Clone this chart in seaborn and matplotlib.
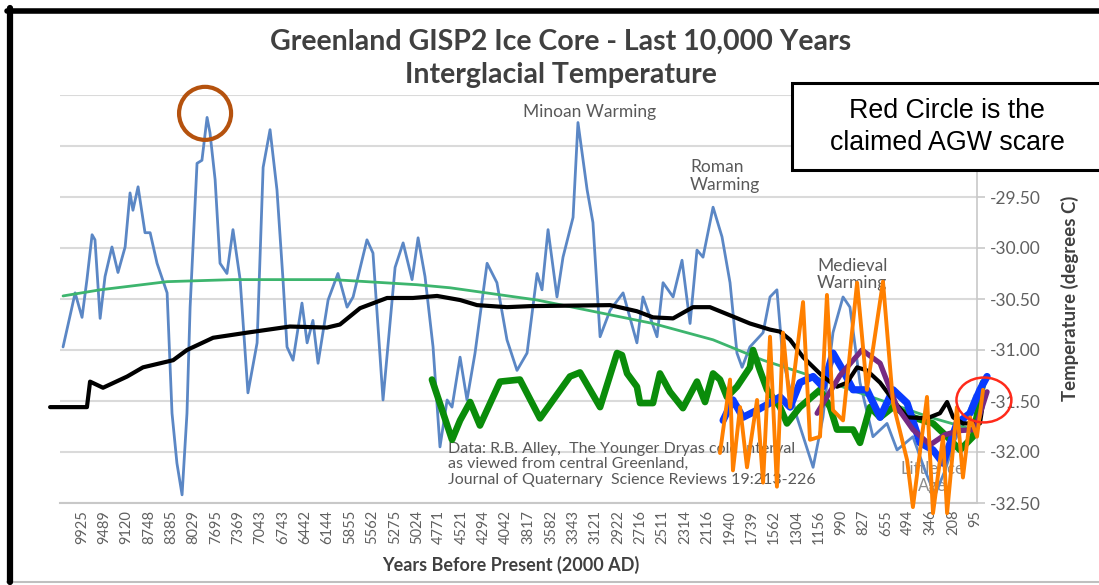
import matplotlib
matplotlib.use("Agg")
import matplotlib.pyplot as plt
from matplotlib.patches import Ellipse, Rectangle
from matplotlib.lines import Line2D
import pandas as pd
import seaborn as sns

# Category axis: years before present (2000 AD)
year_labels = ["9925", "9489", "9120", "8748", "8385", "8029", "7695", "7369", "7043",
               "6743", "6442", "6144", "5855", "5562", "5275", "5024", "4771", "4521",
               "4294", "4042", "3817", "3582", "3343", "3121", "2922", "2716", "2511",
               "2314", "2116", "1940", "1739", "1562", "1304", "1156", "990", "827",
               "655", "494", "346", "208", "95"]
temp_ticks = [-32.5, -32.0, -31.5, -31.0, -30.5, -30.0, -29.5, -29.0, -28.5]
# the two top labels sit behind the callout box
temp_tick_labels = ["-32.50", "-32.00", "-31.50", "-31.00", "-30.50", "-30.00", "-29.50", "", ""]

# GISP2 temperature record (position along the category axis, degrees C)
gisp2_pos = [-0.85, -0.45, -0.31, 0.00, 0.22, 0.45, 0.58, 0.81, 1.03, 1.34, 1.61, 1.93,
             2.15, 2.28, 2.51, 2.82, 3.05, 3.36, 3.81, 4.03, 4.25, 4.48, 4.70, 4.84,
             5.15, 5.37, 5.60, 5.73, 5.96, 6.18, 6.49, 6.76, 7.08, 7.43, 7.84, 8.11,
             8.42, 8.73, 9.00, 9.18, 9.45, 9.85, 10.08, 10.34, 10.57, 11.02, 11.46, 11.87,
             12.14, 12.76, 13.03, 13.48, 14.02, 14.38, 14.78, 15.05, 15.36, 15.72, 16.03, 16.35,
             16.57, 16.93, 17.24, 17.60, 18.14, 18.58, 19.03, 19.48, 19.93, 20.38, 20.60, 20.87,
             21.27, 21.54, 21.99, 22.21, 22.62, 22.88, 23.20, 23.65, 24.23, 24.85, 25.12, 25.75,
             26.02, 26.47, 26.87, 27.23, 27.54, 27.81, 28.26, 28.66, 29.02, 29.33, 29.56, 29.91,
             30.50, 30.81, 31.12, 31.39, 32.02, 32.74, 33.18, 33.63, 34.08, 34.39, 34.84, 35.42,
             36.05, 36.50, 37.21, 37.75, 38.20, 38.65, 39.10, 39.54, 39.99]
gisp2_temp = [-30.97, -30.58, -30.44, -30.68, -30.31, -29.87, -29.92, -30.69, -30.28, -29.99, -30.24, -29.99,
              -29.46, -29.63, -29.40, -29.85, -29.85, -30.15, -30.44, -31.62, -32.11, -32.42, -31.62, -30.58,
              -29.17, -29.14, -28.72, -28.87, -29.33, -30.15, -30.25, -29.82, -30.31, -31.42, -30.93, -29.21,
              -28.84, -29.43, -30.31, -30.97, -31.10, -30.54, -30.93, -30.71, -31.13, -30.51, -30.25, -30.58,
              -30.48, -29.92, -30.05, -31.49, -30.19, -29.95, -30.31, -29.90, -30.28, -30.97, -31.95, -31.49,
              -31.56, -31.07, -31.49, -31.03, -30.15, -30.34, -30.90, -31.20, -31.03, -30.25, -30.41, -29.82,
              -30.48, -30.09, -29.70, -28.77, -29.43, -29.75, -30.87, -30.61, -30.44, -30.93, -30.48, -30.87,
              -30.34, -30.48, -30.12, -30.74, -30.02, -30.09, -29.60, -29.89, -30.34, -31.03, -31.17, -30.97,
              -30.83, -30.48, -30.41, -31.10, -31.66, -32.15, -31.66, -30.83, -30.48, -30.58, -31.32, -31.85,
              -31.72, -31.98, -31.85, -32.18, -32.42, -32.18, -31.88, -31.69, -31.44]

# Polynomial trend of the record
trend_pos = [-0.85, 0.81, 3.81, 6.76, 11.24, 15.00, 16.48, 20.38, 25.57, 28.26, 30.50,
             32.74, 35.74, 37.98, 39.90]
trend_temp = [-30.47, -30.41, -30.33, -30.31, -30.31, -30.36, -30.39, -30.51, -30.74, -30.90, -31.10,
              -31.26, -31.49, -31.66, -31.78]

# Overlaid reconstructions
black_pos = [-1.43, 0.22, 0.36, 0.94, 2.02, 2.73, 4.08, 4.70, 5.87, 7.39, 9.31, 10.97,
             11.55, 12.45, 13.66, 14.82, 15.90, 16.93, 17.69, 19.03, 20.06, 23.65, 24.85, 25.57,
             26.47, 27.36, 28.12, 29.02, 29.91, 30.81, 31.26, 31.71, 32.29, 33.18, 33.81, 34.26,
             34.71, 35.15, 35.74, 36.32, 36.95, 37.84, 38.42, 38.74, 39.01, 39.45, 40.21, 40.35]
black_temp = [-31.56, -31.56, -31.31, -31.37, -31.26, -31.17, -31.10, -31.00, -30.88, -30.83, -30.77, -30.78,
              -30.75, -30.59, -30.49, -30.49, -30.47, -30.51, -30.56, -30.58, -30.57, -30.56, -30.62, -30.68,
              -30.69, -30.58, -30.58, -30.66, -30.74, -30.80, -30.82, -30.90, -31.07, -31.26, -31.36, -31.32,
              -31.17, -31.20, -31.32, -31.49, -31.66, -31.67, -31.62, -31.51, -31.66, -31.72, -31.72, -31.52]

green_pos = [15.67, 16.57, 16.93, 17.38, 17.82, 18.72, 19.61, 20.51, 21.85, 22.30, 23.20, 23.96,
             24.18, 24.41, 24.85, 24.99, 25.57, 25.88, 26.33, 26.91, 27.54, 27.90, 28.26, 28.57,
             28.88, 29.33, 29.91, 30.05, 30.36, 30.68, 31.26, 31.57, 32.15, 33.05, 33.50, 33.81,
             34.53, 34.84, 35.29, 35.74, 36.32, 37.21, 38.11, 38.74, 39.32, 39.90, 40.35]
green_temp = [-31.29, -31.88, -31.69, -31.51, -31.74, -31.31, -31.29, -31.67, -31.26, -31.22, -31.56, -31.03,
              -31.05, -31.23, -31.36, -31.52, -31.52, -31.23, -31.41, -31.57, -31.31, -31.51, -31.23, -31.29,
              -31.46, -31.36, -31.17, -31.00, -31.20, -31.39, -31.56, -31.72, -31.56, -31.39, -31.56, -31.78,
              -31.78, -31.91, -31.56, -31.66, -31.56, -31.66, -31.72, -31.85, -31.98, -31.85, -31.32]

blue_pos = [28.71, 29.15, 29.60, 30.23, 30.81, 31.26, 31.71, 32.15, 32.74, 33.18, 33.63, 34.08,
            34.53, 35.15, 35.74, 36.32, 36.95, 37.53, 38.11, 38.56, 39.18, 39.77, 40.21, 40.53]
blue_temp = [-31.69, -31.49, -31.66, -31.59, -31.52, -31.46, -31.56, -31.32, -31.26, -31.36, -31.03, -31.20,
             -31.39, -31.39, -31.66, -31.39, -31.52, -31.91, -31.98, -32.11, -31.72, -31.62, -31.39, -31.26]

purple_pos = [32.92, 33.94, 34.93, 35.74, 36.50, 37.21, 37.98, 38.65, 39.32, 39.99, 40.53]
purple_temp = [-31.62, -31.25, -31.00, -31.13, -31.56, -31.78, -31.93, -31.83, -31.79, -31.78, -31.41]

orange_pos = [28.57, 29.02, 29.15, 29.47, 29.78, 30.23, 30.50, 30.81, 31.12, 31.39, 31.71, 32.29,
              32.60, 33.05, 33.36, 33.63, 34.08, 34.71, 35.15, 35.87, 36.32, 36.95, 37.21, 37.84,
              38.11, 38.56, 38.74, 39.18, 39.45, 39.77, 40.08, 40.35]
orange_temp = [-32.01, -31.29, -32.18, -31.56, -32.15, -31.49, -32.30, -30.87, -32.34, -30.83, -31.56, -30.53,
               -31.88, -31.85, -30.46, -31.59, -31.69, -30.34, -31.39, -30.33, -31.52, -32.08, -32.54, -31.46,
               -32.60, -31.85, -32.60, -31.56, -32.25, -31.66, -31.85, -31.39]

sns.set_theme(style="white")
plt.rcParams["font.family"] = ["Lato", "DejaVu Sans"]

W, H = 1099, 585
fig = plt.figure(figsize=(W / 100, H / 100), dpi=100)
fig.patch.set_facecolor("white")
ax = fig.add_axes([59.7 / W, 1 - 503 / H, (977 - 59.7) / W, 408 / H])
ax.set_facecolor("none")


def draw(pos, temp, color, lw, z):
    df = pd.DataFrame({"pos": pos, "temp": temp})
    sns.lineplot(data=df, x="pos", y="temp", color=color, linewidth=lw, ax=ax,
                 sort=False, estimator=None, zorder=z)
    line = ax.lines[-1]
    line.set_clip_on(False)
    line.set_solid_joinstyle("round")
    line.set_solid_capstyle("round")


draw(gisp2_pos, gisp2_temp, "#5B87C5", 2.0, 3)
draw(trend_pos, trend_temp, "#3DB56E", 2.0, 4)
draw(green_pos, green_temp, "#0A8C0A", 4.8, 6)
draw(blue_pos, blue_temp, "#0A3CFF", 5.2, 7)
draw(black_pos, black_temp, "#000000", 3.0, 8)
draw(purple_pos, purple_temp, "#762A83", 3.8, 9)
draw(orange_pos, orange_temp, "#FF8000", 2.8, 10)

ax.set_xlim(-1, 40.08)
ax.set_ylim(-32.5, -28.5)
ax.set_xlabel("")
ax.set_ylabel("")

ax.set_xticks(range(len(year_labels)))
ax.set_xticklabels(year_labels, rotation=90)
ax.yaxis.tick_right()
ax.set_yticks(temp_ticks)
ax.set_yticklabels(temp_tick_labels)
ax.tick_params(axis="x", length=0, pad=5, labelsize=10.5, labelcolor="#606060")
ax.tick_params(axis="y", length=6, width=1.2, color="#C8C8C8", pad=3,
               labelsize=12.5, labelcolor="#606060", right=True, left=False)

ax.grid(axis="y", color="#DADADA", linewidth=1.5)
ax.grid(axis="x", visible=False)
for side in ("top", "left"):
    ax.spines[side].set_visible(False)
ax.spines["right"].set_color("#C8C8C8")
ax.spines["right"].set_linewidth(1.2)
ax.spines["bottom"].set_color("#C8C8C8")
ax.spines["bottom"].set_linewidth(1.5)

# Period annotations
note = dict(color="#595959", fontsize=12.5, zorder=5)
ax.text(22.75, -28.67, "Minoan Warming", ha="center", va="center", **note)
ax.text(27.23, -29.29, "Roman\nWarming", ha="left", va="center", linespacing=1.15, **note)
ax.text(32.92, -30.26, "Medieval\nWarming", ha="left", va="center", linespacing=1.15, **note)
ax.text(38.07, -32.25, "Little Ice\nAge", ha="center", va="center", linespacing=1.15,
        color="#8C8C8C", fontsize=12, zorder=2)
ax.text(16.39, -32.12,
        "Data: R.B. Alley,  The Younger Dryas cold interval\n"
        "as viewed from central Greenland,\n"
        "Journal of Quaternary  Science Reviews 19:213-226",
        ha="left", va="center", linespacing=1.15, color="#595959", fontsize=11.5, zorder=5)

# Highlight circles
ax.add_patch(Ellipse((5.51, -28.68), 2.33, 0.52, fill=False, edgecolor="#B5520E",
                     linewidth=3, zorder=11, clip_on=False))
ax.add_patch(Ellipse((40.39, -31.49), 2.46, 0.44, fill=False, edgecolor="#FF2A1A",
                     linewidth=1.8, zorder=11, clip_on=False))

# Titles and axis labels
fig.text(561 / W, 1 - 42 / H, "Greenland GISP2 Ice Core - Last 10,000 Years",
         ha="center", va="center", fontsize=20.5, fontweight="bold", color="#404040")
fig.text(561 / W, 1 - 75 / H, "Interglacial Temperature",
         ha="center", va="center", fontsize=20.5, fontweight="bold", color="#404040")
fig.text(511 / W, 1 - 565 / H, "Years Before Present (2000 AD)",
         ha="center", va="center", fontsize=13, fontweight="bold", color="#404040")
fig.text(1070 / W, 1 - 298 / H, "Temperature (degrees C)", rotation=90,
         ha="center", va="center", fontsize=13.4, fontweight="bold", color="#404040")

# Callout box
fig.add_artist(Rectangle((792 / W, 1 - 170 / H), (1120 - 792) / W, 87 / H,
                         transform=fig.transFigure, facecolor="white", edgecolor="black",
                         linewidth=2.2, zorder=20, clip_on=False))
for y_px, line in ((111, "Red Circle is the"), (143, "claimed AGW scare")):
    fig.text(947 / W, 1 - y_px / H, line, ha="center", va="center", fontsize=19.3,
             family=["Liberation Sans", "DejaVu Sans"], color="black", zorder=21)

# Slide frame
fig.add_artist(Line2D([9.5 / W, 9.5 / W], [0.005, 1 - 8 / H], transform=fig.transFigure,
                      color="black", linewidth=4.5, zorder=30))
fig.add_artist(Line2D([7 / W, 1], [1 - 10.5 / H, 1 - 10.5 / H], transform=fig.transFigure,
                      color="black", linewidth=4, zorder=30))
fig.add_artist(Line2D([7 / W, 1], [1 - 582 / H, 1 - 582 / H], transform=fig.transFigure,
                      color="#BFBFBF", linewidth=1.5, zorder=29))

fig.savefig("out.png", dpi=100)
